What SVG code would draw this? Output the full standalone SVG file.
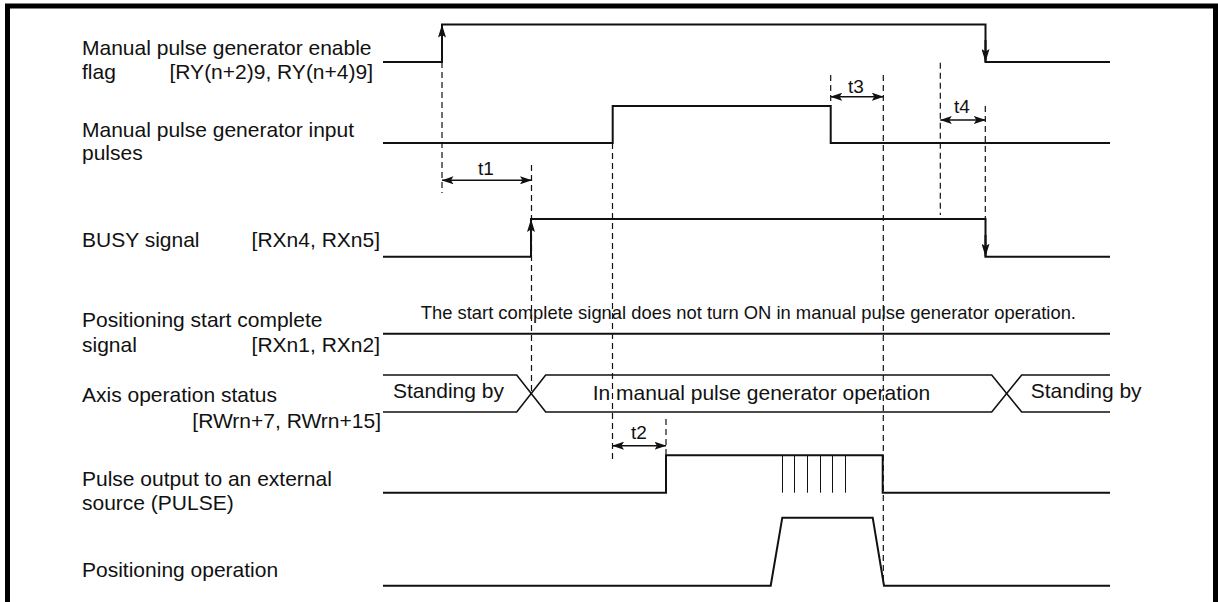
<svg xmlns="http://www.w3.org/2000/svg" width="1218" height="602" viewBox="0 0 1218 602">
<style>
text{font-family:"Liberation Sans",Arial,sans-serif;fill:#111}
.lbl{font-size:21px}
.end{text-anchor:end}
.note{font-size:18.4px}
.t{font-size:19px;text-anchor:middle}
.sig{fill:none;stroke:#111;stroke-width:2;stroke-linejoin:miter}
.bus{fill:none;stroke:#111;stroke-width:1.6}
.thin{fill:none;stroke:#111;stroke-width:1}
.dash{fill:none;stroke:#111;stroke-width:1.2;stroke-dasharray:6 4}
.dim{fill:none;stroke:#111;stroke-width:1.5;marker-start:url(#ah);marker-end:url(#ah)}
.edge{fill:none;stroke:#111;stroke-width:2;marker-end:url(#eh)}
.frame{fill:none;stroke:#000;stroke-width:5}
</style>
<defs>
<marker id="ah" markerUnits="userSpaceOnUse" viewBox="0 0 12 8" markerWidth="12" markerHeight="8" refX="11.5" refY="4" orient="auto-start-reverse"><path d="M0,0 L12,4 L0,8 L2.5,4 z" fill="#111"/></marker>
<marker id="eh" markerUnits="userSpaceOnUse" viewBox="0 0 13 8" markerWidth="13" markerHeight="8" refX="13" refY="4" orient="auto"><path d="M0,0 L13,4 L0,8 L2.5,4 z" fill="#111"/></marker>
</defs>

<path class="frame" d="M7.5,610 V6 H1215.5 V610"/>

<g id="enable-flag">
<text class="lbl" x="82" y="55">Manual pulse generator enable</text>
<text class="lbl" x="82" y="79">flag</text>
<text class="lbl end" x="373" y="79">[RY(n+2)9, RY(n+4)9]</text>
<path class="sig" d="M383,62 H442 V24.5 H985.5 V62 H1110"/>
<path class="edge" d="M442,50 V24.5"/>
<path class="edge" d="M985.5,40 V62"/>
</g>

<g id="input-pulses">
<text class="lbl" x="82" y="137">Manual pulse generator input</text>
<text class="lbl" x="82" y="160">pulses</text>
<path class="sig" d="M383,143 H612.7 V106 H830.7 V143 H1110"/>
</g>

<g id="busy-signal">
<text class="lbl" x="82" y="247">BUSY signal</text>
<text class="lbl end" x="380" y="247">[RXn4, RXn5]</text>
<path class="sig" d="M383,256.7 H531 V219 H985.5 V256.7 H1110"/>
<path class="edge" d="M531,240 V219"/>
<path class="edge" d="M985.5,235 V256.7"/>
</g>

<g id="start-complete">
<text class="lbl" x="82" y="327">Positioning start complete</text>
<text class="lbl" x="82" y="352">signal</text>
<text class="lbl end" x="380" y="352">[RXn1, RXn2]</text>
<text class="note" x="420.7" y="319">The start complete signal does not turn ON in manual pulse generator operation.</text>
<path class="sig" d="M383,333.7 H1110"/>
</g>

<g id="axis-status">
<text class="lbl" x="82" y="402">Axis operation status</text>
<text class="lbl end" x="381" y="428">[RWrn+7, RWrn+15]</text>
<text class="lbl" x="393" y="398">Standing by</text>
<text class="lbl" x="592.7" y="400">In manual pulse generator operation</text>
<text class="lbl" x="1030.7" y="398">Standing by</text>
<path class="bus" d="M383,375 H516.7 L545.7,412 H991.7 L1021.7,375 H1110"/>
<path class="bus" d="M383,412 H516.7 L545.7,375 H991.7 L1021.7,412 H1110"/>
</g>

<g id="pulse-output">
<text class="lbl" x="82" y="486">Pulse output to an external</text>
<text class="lbl" x="82" y="510">source (PULSE)</text>
<path class="sig" d="M383,492.7 H666 V455.3 H882.7 V492.7 H1110"/>
<path class="thin" d="M782.5,455.3 V492.7 M794.5,455.3 V492.7 M807.5,455.3 V492.7 M820.5,455.3 V492.7 M832.5,455.3 V492.7 M845.5,455.3 V492.7"/>
</g>

<g id="positioning-operation">
<text class="lbl" x="82" y="577">Positioning operation</text>
<path class="sig" d="M383,585.7 H770.7 L782.3,517.7 H872.7 L884,585.7 H1110"/>
</g>

<g id="connectors">
<path class="dash" d="M442,62 V193"/>
<path class="dash" d="M531.5,165 V393"/>
<path class="dash" d="M612.5,143 V462"/>
<path class="dash" d="M666,419 V455"/>
<path class="dash" d="M830.7,75 V106"/>
<path class="dash" d="M883.3,75 V585"/>
<path class="dash" d="M940.3,62.7 V215"/>
<path class="dash" d="M985.3,106 V219"/>
<path class="dim" d="M442,180.3 H531.5"/>
<text class="t" x="486" y="175">t1</text>
<path class="dim" d="M612.5,445.7 H666"/>
<text class="t" x="639" y="439">t2</text>
<path class="dim" d="M830.7,96.7 H883.3"/>
<text class="t" x="856" y="92.5">t3</text>
<path class="dim" d="M940.3,120 H985.3"/>
<text class="t" x="962" y="113">t4</text>
</g>
</svg>
